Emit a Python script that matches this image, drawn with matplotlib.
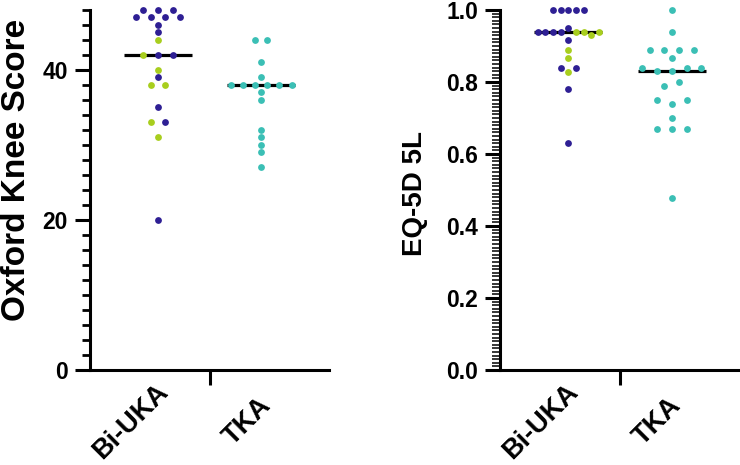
import numpy as np
import matplotlib
matplotlib.use("Agg")
import matplotlib.pyplot as plt
from matplotlib.ticker import FixedLocator
from matplotlib.transforms import ScaledTranslation

# ---------------- data ----------------
categories = ["Bi-UKA", "TKA"]

# Oxford Knee Score
oks_biuka = [48, 48, 48, 47, 47, 47, 47, 46, 45, 44, 42, 42, 42, 40, 39, 38, 38, 35, 33, 33, 31, 20]
oks_biuka_sub = ["A", "A", "A", "A", "A", "A", "A", "A", "A", "B", "B", "A", "A", "B", "A", "B", "B", "A",
                 "B", "A", "B", "A"]
oks_tka = [44, 44, 41, 39, 38, 38, 38, 38, 38, 38, 37, 36, 32, 31, 30, 29, 27]

# EQ-5D 5L
eq_biuka = [1.0, 1.0, 1.0, 1.0, 1.0, 0.939, 0.939, 0.939, 0.939, 0.949, 0.939, 0.939, 0.930, 0.939,
            0.918, 0.889, 0.868, 0.839, 0.829, 0.839, 0.780, 0.630]
eq_biuka_sub = ["A", "A", "A", "A", "A", "A", "A", "A", "A", "A", "B", "B", "B", "B",
                "A", "B", "B", "A", "B", "A", "A", "A"]
eq_tka = [1.0, 0.939, 0.889, 0.889, 0.889, 0.889, 0.868, 0.838, 0.830, 0.830, 0.838, 0.838,
          0.789, 0.800, 0.750, 0.739, 0.750, 0.699, 0.670, 0.670, 0.670, 0.479]

oks_ticks = [0, 20, 40]
eq_ticks = [0.0, 0.2, 0.4, 0.6, 0.8, 1.0]

colors = {"A": "#2E1F94", "B": "#A8CE1E", "TKA": "#3BBFB5"}

FONT = ["Liberation Sans", "DejaVu Sans"]
plt.rcParams["font.family"] = FONT
plt.rcParams["font.weight"] = "bold"

fig = plt.figure(figsize=(7.4, 4.65), dpi=100)
W, H = 740, 465
ax1 = fig.add_axes([90 / W, 95 / H, 239 / W, 360 / H])
ax2 = fig.add_axes([500 / W, 95 / H, 240 / W, 360 / H])


def style_axes(ax, ylim, major, minor_step, minor_w):
    ax.set_xlim(-0.66, 1.66)
    ax.set_ylim(*ylim)
    for s in ["top", "right"]:
        ax.spines[s].set_visible(False)
    for s in ["left", "bottom"]:
        ax.spines[s].set_linewidth(2.2)
        ax.spines[s].set_capstyle("projecting")
    ax.yaxis.set_major_locator(FixedLocator(major))
    ax.yaxis.set_minor_locator(FixedLocator(np.arange(ylim[0], ylim[1] + minor_step / 2, minor_step)))
    ax.tick_params(axis="y", which="major", length=10.8, width=2.2, labelsize=16.5, pad=5)
    ax.tick_params(axis="y", which="minor", length=5.5, width=minor_w)
    # x axis: one separating tick, category labels without ticks
    ax.set_xticks([0.5])
    ax.set_xticklabels([""])
    ax.tick_params(axis="x", which="major", length=10.8, width=2.2)
    ax.set_xticks([0, 1], minor=True)
    labels = ax.set_xticklabels(categories, minor=True, rotation=45, ha="right", fontsize=19.5,
                                rotation_mode="default", va="center")
    ax.tick_params(axis="x", which="minor", length=0, pad=37)
    for lab in labels:
        lab.set_transform(lab.get_transform() + ScaledTranslation(15 / 100, 0, fig.dpi_scale_trans))


def swarm(ax, values, subs, xc, tol_px=7.1, width_px=61, cap_px=14.8):
    values = np.asarray(values, dtype=float)
    n = len(values)
    ypx = ax.transData.transform(np.column_stack([np.zeros(n), values]))[:, 1]
    order = np.argsort(-values, kind="stable")
    rows, cur, top = [], [order[0]], ypx[order[0]]
    for i in order[1:]:
        if top - ypx[i] < tol_px:
            cur.append(i)
        else:
            rows.append(cur)
            cur, top = [i], ypx[i]
    rows.append(cur)
    maxn = max(len(r) for r in rows)
    sp = min(cap_px, width_px / (maxn - 1)) if maxn > 1 else 0
    p0 = ax.transData.transform([[0, 0], [1, 0]])
    unit = 1.0 / (p0[1, 0] - p0[0, 0])
    offs = np.zeros(n)
    for r in rows:
        r = sorted(r)
        for k, i in enumerate(r):
            offs[i] = (k - (len(r) - 1) / 2) * sp * unit
    med = np.median(values)
    ax.plot([xc - 0.33, xc + 0.33], [med, med], color="black", lw=2.3, zorder=2,
            solid_capstyle="butt", clip_on=False)
    subs = np.asarray(subs)
    for g in np.unique(subs):
        m = subs == g
        ax.scatter(xc + offs[m], values[m], s=24, color=colors[g], linewidths=0,
                   zorder=3, clip_on=False)


style_axes(ax1, (0, 48), oks_ticks, 2, 2.0)
style_axes(ax2, (0, 1.0), eq_ticks, 0.01, 1.1)
ax2.set_yticklabels([f"{t:.1f}" for t in eq_ticks])

swarm(ax1, oks_biuka, oks_biuka_sub, 0)
swarm(ax1, oks_tka, ["TKA"] * len(oks_tka), 1)
swarm(ax2, eq_biuka, eq_biuka_sub, 0)
swarm(ax2, eq_tka, ["TKA"] * len(eq_tka), 1)

ax1.set_ylabel("Oxford Knee Score", fontsize=24, fontweight="bold")
ax1.yaxis.set_label_coords(-0.243, 0.556)
ax2.set_ylabel("EQ-5D 5L", fontsize=20, fontweight="bold")
ax2.yaxis.set_label_coords(-0.302, 0.49)

fig.savefig("out.png", dpi=100)
